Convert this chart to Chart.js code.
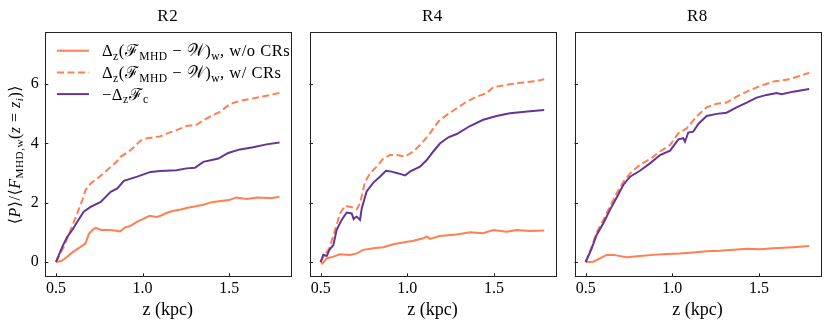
<!DOCTYPE html>
<html>
<head>
<meta charset="utf-8">
<script src="https://cdn.jsdelivr.net/npm/chart.js@4.4.0/dist/chart.umd.min.js"></script>
<style>
html, body { margin: 0; padding: 0; background: #fff; }
#wrap { position: relative; width: 830px; height: 328px; }
#wrap canvas { position: absolute; left: 0; top: 0; }
</style>
</head>
<body>
<div id="wrap">
  <canvas id="r2" width="830" height="328"></canvas>
  <canvas id="r4" width="830" height="328"></canvas>
  <canvas id="r8" width="830" height="328"></canvas>
</div>
<script>
// panel titles and ticks
var panelTitles = ["R2", "R4", "R8"];
var zTicks = [0.5, 1.0, 1.5];
var yTicks = [0, 2, 4, 6];

// R2
var r2NoCrZ = [0.5, 0.53, 0.56, 0.6, 0.64, 0.67, 0.69, 0.71, 0.73, 0.76, 0.8, 0.84, 0.87, 0.9, 0.93, 0.97, 1.0, 1.04, 1.08, 1.1, 1.14, 1.18, 1.22, 1.26, 1.3, 1.35, 1.4, 1.45, 1.5, 1.54, 1.6, 1.66, 1.7, 1.74, 1.79];
var r2NoCr  = [0, 0.03, 0.15, 0.35, 0.5, 0.62, 0.95, 1.08, 1.15, 1.08, 1.08, 1.06, 1.03, 1.17, 1.22, 1.36, 1.45, 1.56, 1.52, 1.55, 1.66, 1.73, 1.77, 1.83, 1.87, 1.93, 2.02, 2.06, 2.09, 2.18, 2.13, 2.18, 2.17, 2.15, 2.2];
var r2CrZ = [0.5, 0.546, 0.585, 0.623, 0.652, 0.671, 0.7, 0.756, 0.816, 0.85, 0.873, 0.93, 0.989, 1.027, 1.1, 1.142, 1.196, 1.254, 1.31, 1.37, 1.446, 1.504, 1.562, 1.619, 1.677, 1.735, 1.79];
var r2Cr  = [0, 0.52, 1.08, 1.64, 2.09, 2.43, 2.65, 2.9, 3.21, 3.38, 3.55, 3.77, 4.1, 4.18, 4.24, 4.34, 4.45, 4.59, 4.63, 4.85, 5.07, 5.33, 5.44, 5.5, 5.57, 5.63, 5.71];
var r2FcZ = [0.5, 0.537, 0.565, 0.594, 0.623, 0.66, 0.7, 0.758, 0.816, 0.854, 0.892, 0.969, 1.046, 1.1, 1.196, 1.254, 1.302, 1.35, 1.437, 1.494, 1.562, 1.638, 1.715, 1.79];
var r2Fc  = [0, 0.52, 0.85, 1.08, 1.36, 1.7, 1.86, 2.03, 2.37, 2.48, 2.74, 2.88, 3.04, 3.07, 3.1, 3.16, 3.18, 3.38, 3.49, 3.68, 3.8, 3.87, 3.97, 4.03];

// R4
var r4NoCrZ = [0.5, 0.51, 0.535, 0.573, 0.612, 0.669, 0.708, 0.746, 0.804, 0.862, 0.919, 0.977, 1.035, 1.092, 1.112, 1.131, 1.188, 1.285, 1.362, 1.438, 1.496, 1.573, 1.631, 1.708, 1.79];
var r4NoCr  = [0, -0.05, 0.12, 0.18, 0.26, 0.24, 0.29, 0.41, 0.46, 0.5, 0.6, 0.66, 0.72, 0.8, 0.86, 0.78, 0.88, 0.93, 1.0, 0.97, 1.08, 1.02, 1.08, 1.05, 1.06];
var r4CrZ = [0.5, 0.515, 0.55, 0.583, 0.612, 0.64, 0.679, 0.708, 0.727, 0.756, 0.785, 0.823, 0.862, 0.9, 0.938, 0.987, 1.035, 1.083, 1.131, 1.179, 1.227, 1.285, 1.342, 1.4, 1.458, 1.496, 1.573, 1.669, 1.746, 1.79];
var r4Cr  = [0, 0.18, 0.46, 1.08, 1.64, 1.9, 1.85, 1.78, 1.98, 2.71, 2.99, 3.22, 3.5, 3.61, 3.61, 3.56, 3.73, 4.0, 4.35, 4.74, 4.96, 5.19, 5.41, 5.58, 5.7, 5.9, 5.98, 6.06, 6.11, 6.17];
var r4FcZ = [0.5, 0.515, 0.535, 0.55, 0.573, 0.592, 0.621, 0.65, 0.679, 0.69, 0.698, 0.708, 0.727, 0.737, 0.765, 0.804, 0.842, 0.877, 0.91, 0.948, 0.987, 1.015, 1.073, 1.112, 1.15, 1.188, 1.237, 1.285, 1.362, 1.438, 1.515, 1.592, 1.708, 1.79];
var r4Fc  = [0, 0.24, 0.2, 0.41, 0.57, 1.08, 1.42, 1.67, 1.64, 1.45, 1.5, 1.53, 1.42, 1.81, 2.38, 2.68, 2.88, 3.08, 3.05, 2.99, 2.92, 3.05, 3.22, 3.44, 3.73, 4.0, 4.21, 4.32, 4.59, 4.8, 4.93, 5.02, 5.09, 5.13];

// R8
var r8NoCrZ = [0.5, 0.544, 0.583, 0.621, 0.66, 0.737, 0.813, 0.89, 0.967, 1.044, 1.121, 1.198, 1.275, 1.352, 1.429, 1.506, 1.583, 1.698, 1.79];
var r8NoCr  = [0, 0.01, 0.12, 0.24, 0.24, 0.16, 0.2, 0.24, 0.27, 0.29, 0.32, 0.36, 0.38, 0.41, 0.45, 0.43, 0.46, 0.5, 0.54];
var r8CrZ = [0.5, 0.535, 0.563, 0.602, 0.64, 0.679, 0.717, 0.756, 0.813, 0.871, 0.929, 0.987, 1.035, 1.083, 1.14, 1.198, 1.256, 1.313, 1.371, 1.429, 1.506, 1.583, 1.66, 1.737, 1.79];
var r8Cr  = [0, 0.52, 0.99, 1.42, 1.87, 2.32, 2.71, 2.99, 3.28, 3.47, 3.73, 3.95, 4.35, 4.51, 4.91, 5.22, 5.34, 5.38, 5.58, 5.75, 5.94, 6.09, 6.15, 6.28, 6.39];
var r8FcZ = [0.5, 0.535, 0.563, 0.602, 0.64, 0.679, 0.717, 0.756, 0.813, 0.871, 0.929, 0.987, 1.035, 1.063, 1.073, 1.092, 1.121, 1.15, 1.198, 1.256, 1.313, 1.371, 1.429, 1.487, 1.544, 1.602, 1.631, 1.698, 1.79];
var r8Fc  = [0, 0.46, 0.91, 1.31, 1.76, 2.18, 2.6, 2.88, 3.08, 3.33, 3.61, 3.76, 4.14, 4.18, 4.06, 4.37, 4.4, 4.66, 4.93, 5.0, 5.04, 5.22, 5.38, 5.55, 5.64, 5.7, 5.66, 5.75, 5.84];

var seriesNames = ["Δz(FMHD − W)w, w/o CRs", "Δz(FMHD − W)w, w/ CRs", "−ΔzFc"];

var orange = "#ff7f50";
var purple = "#663399";
var serif = '"Liberation Serif", "DejaVu Serif", serif';

Chart.defaults.color = "#000";
Chart.defaults.font.family = serif;

function pts(z, v) {
  return z.map(function (x, i) { return { x: x, y: v[i] }; });
}

// draws text with sub-scripts / italics, segment by segment
function segFont(s, size) {
  var sz = s.sub ? size * 0.7 : size;
  return (s.it ? "italic " : "") + sz + "px " + serif;
}
function richWidth(ctx, segs, size) {
  var w = 0;
  segs.forEach(function (s) { ctx.font = segFont(s, size); w += ctx.measureText(s.t).width; });
  return w;
}
function drawRich(ctx, segs, x, y, size, center) {
  var cx = center ? x - richWidth(ctx, segs, size) / 2 : x;
  ctx.textBaseline = "alphabetic";
  ctx.textAlign = "left";
  segs.forEach(function (s) {
    ctx.font = segFont(s, size);
    ctx.fillText(s.t, cx, y + (s.sub ? size * 0.22 : 0));
    cx += ctx.measureText(s.t).width;
  });
}

var legendRows = [
  [{t: "Δ"}, {t: "z", sub: true}, {t: "("}, {t: "ℱ"}, {t: "MHD", sub: true}, {t: " − "}, {t: "𝒲"}, {t: ")"}, {t: "w", sub: true}, {t: ", w/o CRs"}],
  [{t: "Δ"}, {t: "z", sub: true}, {t: "("}, {t: "ℱ"}, {t: "MHD", sub: true}, {t: " − "}, {t: "𝒲"}, {t: ")"}, {t: "w", sub: true}, {t: ", w/ CRs"}],
  [{t: "−Δ"}, {t: "z", sub: true}, {t: "ℱ"}, {t: "c", sub: true}]
];
var yLabel = [{t: "⟨"}, {t: "P", it: true}, {t: "⟩/⟨"}, {t: "F", it: true}, {t: "MHD,w", sub: true}, {t: "("}, {t: "z", it: true}, {t: " = "}, {t: "z", it: true}, {t: "i", sub: true, it: true}, {t: ")⟩"}];

// frame, inward ticks and panel title
var panelDeco = {
  id: "panelDeco",
  afterDraw: function (chart, args, opts) {
    var ctx = chart.ctx, a = chart.chartArea;
    var xs = chart.scales.x, ys = chart.scales.y;
    ctx.save();
    ctx.strokeStyle = "#222";
    ctx.lineWidth = 1;
    ctx.strokeRect(Math.round(a.left) + 0.5, Math.round(a.top) + 0.5, Math.round(a.right - a.left), Math.round(a.bottom - a.top));
    ctx.beginPath();
    ys.ticks.forEach(function (t) {
      var py = Math.round(ys.getPixelForValue(t.value)) + 0.5;
      ctx.moveTo(a.left, py); ctx.lineTo(a.left + 3.5, py);
    });
    xs.ticks.forEach(function (t) {
      var px = Math.round(xs.getPixelForValue(t.value)) + 0.5;
      ctx.moveTo(px, a.bottom); ctx.lineTo(px, a.bottom - 3.5);
    });
    ctx.stroke();
    ctx.fillStyle = "#000";
    ctx.font = "17px " + serif;
    ctx.letterSpacing = "0.5px";
    ctx.textAlign = "center";
    ctx.textBaseline = "alphabetic";
    ctx.fillText(opts.title, (a.left + a.right) / 2, 21);
    ctx.restore();
  }
};
Chart.register(panelDeco);

// legend and y label, only on the first panel
var firstPanelText = {
  id: "firstPanelText",
  afterDraw: function (chart) {
    var ctx = chart.ctx, a = chart.chartArea;
    var styles = [{c: orange, d: []}, {c: orange, d: [7, 3.5]}, {c: purple, d: []}];
    ctx.save();
    ctx.letterSpacing = "0.5px";
    legendRows.forEach(function (row, i) {
      var y = 50.7 + i * 21.7;
      ctx.strokeStyle = styles[i].c;
      ctx.lineWidth = 2;
      ctx.setLineDash(styles[i].d);
      ctx.beginPath();
      ctx.moveTo(57, y); ctx.lineTo(89, y);
      ctx.stroke();
      ctx.fillStyle = "#000";
      drawRich(ctx, row, 102, y + 5.5, 16.5, false);
    });
    ctx.setLineDash([]);
    ctx.translate(19.5, (a.top + a.bottom) / 2);
    ctx.rotate(-Math.PI / 2);
    ctx.fillStyle = "#000";
    drawRich(ctx, yLabel, 0, 0, 16, true);
    ctx.restore();
  }
};

function makePanel(id, idx, noCr, cr, fc, padL, padR) {
  var first = idx === 0;
  return new Chart(document.getElementById(id), {
    type: "line",
    data: {
      datasets: [
        { label: seriesNames[0], data: noCr, borderColor: orange, borderWidth: 2, order: 2 },
        { label: seriesNames[1], data: cr, borderColor: orange, borderWidth: 2, borderDash: [7, 3.5], order: 1 },
        { label: seriesNames[2], data: fc, borderColor: purple, borderWidth: 2, order: 0 }
      ]
    },
    options: {
      responsive: false,
      animation: false,
      events: [],
      elements: { point: { radius: 0 }, line: { tension: 0, fill: false } },
      layout: { padding: { left: padL, right: padR, top: 32.4, bottom: 0 } },
      plugins: {
        legend: { display: false },
        tooltip: { enabled: false },
        panelDeco: { title: panelTitles[idx] }
      },
      scales: {
        x: {
          type: "linear",
          min: 0.4355,
          max: 1.8545,
          afterBuildTicks: function (s) { s.ticks = zTicks.map(function (v) { return { value: v }; }); },
          afterFit: function (s) { s.height = 51.2; },
          grid: { display: false, drawTicks: false },
          border: { display: false },
          ticks: { padding: 2, maxRotation: 0, font: { size: 16, family: serif }, color: "#000",
                   callback: function (v) { return v.toFixed(1); } },
          title: { display: true, text: "z (kpc)", color: "#000", font: { size: 18, family: serif }, padding: { top: 0, bottom: 7 } }
        },
        y: {
          min: -0.5,
          max: 7.75,
          afterBuildTicks: function (s) { s.ticks = yTicks.map(function (v) { return { value: v }; }); },
          afterFit: function (s) { s.width = 40; },
          grid: { display: false, drawTicks: false },
          border: { display: false },
          ticks: { display: first, padding: 6, font: { size: 16, family: serif }, color: "#000" }
        }
      }
    },
    plugins: first ? [firstPanelText] : []
  });
}

makePanel("r2", 0, pts(r2NoCrZ, r2NoCr), pts(r2CrZ, r2Cr), pts(r2FcZ, r2Fc), 4.8, 539.3);
makePanel("r4", 1, pts(r4NoCrZ, r4NoCr), pts(r4CrZ, r4Cr), pts(r4FcZ, r4Fc), 269.5, 274.6);
makePanel("r8", 2, pts(r8NoCrZ, r8NoCr), pts(r8CrZ, r8Cr), pts(r8FcZ, r8Fc), 534.5, 9.6);
</script>
</body>
</html>
